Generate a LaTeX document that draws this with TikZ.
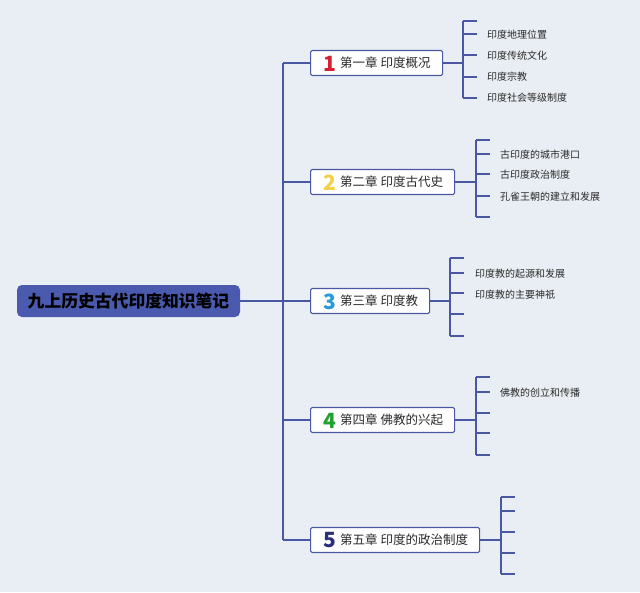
\documentclass[tikz,border=0pt]{standalone}
\usepackage{fontspec}
\setmainfont{Noto Sans CJK SC}
\newfontfamily\cjk{Noto Sans CJK SC}
\begin{document}
\begin{tikzpicture}[x=1pt,y=-1pt,
  conn/.style={draw=lineblue,line width=1.3pt},
  chapbox/.style={draw=lineblue,line width=1.1pt,fill=white,rounded corners=1.5pt,minimum height=25pt,inner sep=0pt,anchor=west},
  chaptext/.style={inner sep=0pt,anchor=west,font=\fontsize{12.5}{14}\selectfont,text=textgray},
  numtext/.style={inner sep=0pt,font=\fontsize{21}{22}\selectfont\bfseries},
  leaftext/.style={inner sep=0pt,anchor=west,font=\fontsize{10}{12}\selectfont,text=textgray}]
\definecolor{bg}{HTML}{E9EEF4}
\definecolor{lineblue}{HTML}{4A58A4}
\definecolor{rootblue}{HTML}{4A5AAE}
\definecolor{textgray}{HTML}{2A2A2A}
\definecolor{nred}{HTML}{D42030}
\definecolor{nyellow}{HTML}{F2D048}
\definecolor{nblue}{HTML}{2A9AD8}
\definecolor{ngreen}{HTML}{22A030}
\definecolor{nnavy}{HTML}{2A2F7A}
\fill[bg] (0,0) rectangle (640,592);
\useasboundingbox (0,0) rectangle (640,592);
% root
\node[fill=rootblue,rounded corners=5pt,minimum width=223pt,minimum height=32pt,inner sep=0pt,
  font=\fontsize{16.8}{18}\selectfont\bfseries,text=black] (root) at (128.5,301) {九上历史古代印度知识笔记};
\coordinate (trunktop) at (283,63);
\coordinate (trunkbot) at (283,540);
\coordinate (trunkmid) at (283,301);
\draw[conn] (root.east) -- (trunkmid);
\draw[conn] (trunktop) -- (trunkbot);
% chapters: index/cy/width/right/vx/tickend/colour/number/text
\foreach \i/\cy/\w/\vx/\col/\num/\txt in {
  1/63/132/463/nred/1/第一章 印度概况,
  2/182/144/476/nyellow/2/第二章 印度古代史,
  3/301/119/450/nblue/3/第三章 印度教,
  4/420/144/476/ngreen/4/第四章 佛教的兴起,
  5/540/169/501/nnavy/5/第五章 印度的政治制度}{
  \coordinate (t\i) at (283,\cy);
  \node[chapbox,minimum width=\w pt] (c\i) at (310,\cy) {};
  \draw[conn] (t\i) -- (c\i.west);
  \node[numtext,text=\col] (n\i) at (329.5,\cy+0.5) {\num};
  \node[chaptext] (ct\i) at (340,\cy) {\txt};
  \coordinate (v\i) at (\vx,\cy);
  \draw[conn] (c\i.east) -- (v\i);
}
% brackets
\foreach \g/\vx/\ya/\yb/\yc/\yd/\ye in {
  1/463/21/34/55/77/98,
  2/476/140/154/174/196/217,
  3/450/258/273/293/314/336,
  4/476/377/392/413/433/455,
  5/501/497/511/532/553/574}{
  \coordinate (b\g a) at (\vx,\ya);
  \coordinate (b\g e) at (\vx,\ye);
  \draw[conn] (b\g a) -- (b\g e);
  \foreach \k/\yy in {1/\ya,2/\yb,3/\yc,4/\yd,5/\ye}{
    \coordinate (s\g\k) at (\vx,\yy);
    \coordinate (e\g\k) at (\vx+14,\yy);
    \draw[conn] (s\g\k) -- (e\g\k);
  }
}
% leaves
\node[leaftext] (l12) at (487,35) {印度地理位置};
\node[leaftext] (l13) at (487,56) {印度传统文化};
\node[leaftext] (l14) at (487,77) {印度宗教};
\node[leaftext] (l15) at (487,98) {印度社会等级制度};
\node[leaftext] (l22) at (500,155) {古印度的城市港口};
\node[leaftext] (l23) at (500,175) {古印度政治制度};
\node[leaftext] (l24) at (500,197) {孔雀王朝的建立和发展};
\node[leaftext] (l32) at (475,274) {印度教的起源和发展};
\node[leaftext] (l33) at (475,295) {印度教的主要神祇};
\node[leaftext] (l42) at (500,393) {佛教的创立和传播};
\end{tikzpicture}
\end{document}
